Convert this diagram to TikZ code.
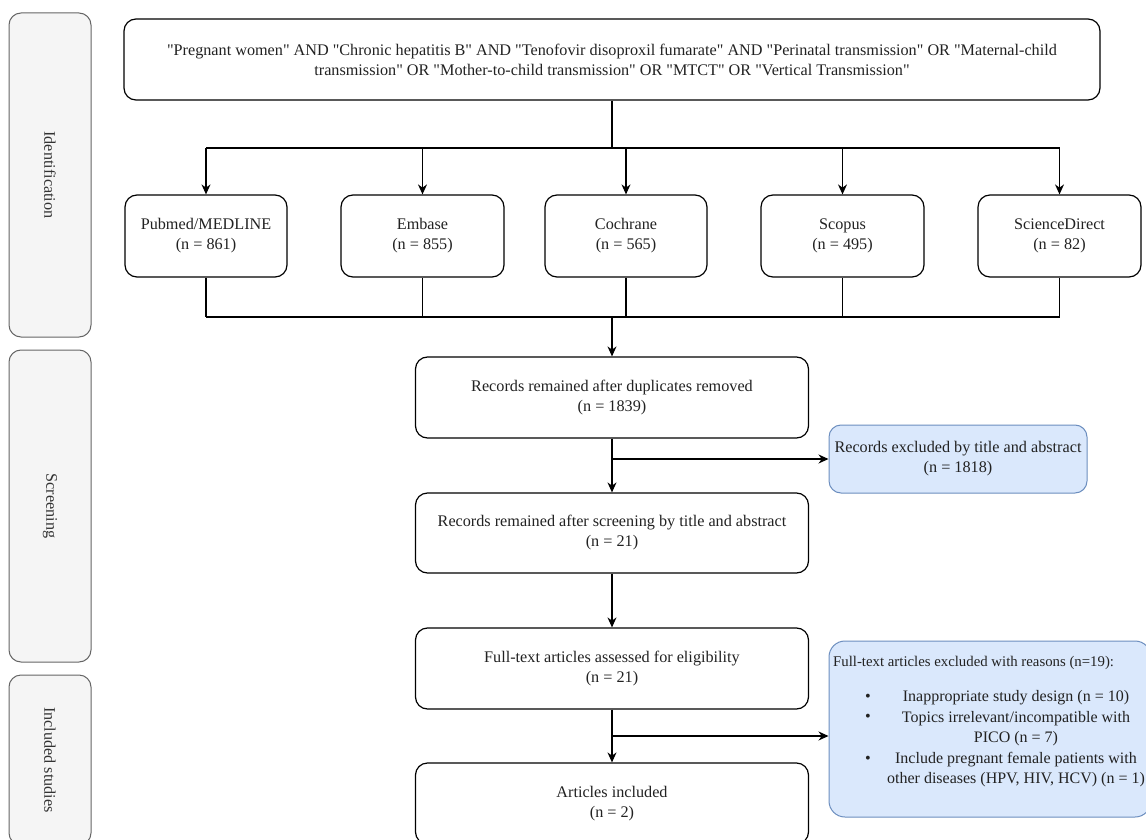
\documentclass[tikz,border=0pt]{standalone}
\usepackage{fontspec}
\setmainfont{Liberation Serif}[Ligatures=TeXOff]
\usetikzlibrary{arrows.meta,calc}
\definecolor{phasefill}{HTML}{F5F5F5}
\definecolor{phasedraw}{HTML}{666666}
\definecolor{phasetext}{HTML}{333333}
\definecolor{bluefill}{HTML}{DAE8FC}
\definecolor{bluedraw}{HTML}{6C8EBF}
\definecolor{txt}{HTML}{222222}
\begin{document}
\begin{tikzpicture}[x=1pt,y=-1pt,
  every node/.style={font=\fontsize{16.2}{20}\selectfont, text=txt},
  box/.style={draw=black, line width=1.2pt, rounded corners=12pt, fill=white, inner sep=0pt, align=center},
  phase/.style={draw=phasedraw, fill=phasefill, line width=1pt, rounded corners=12pt, inner sep=0pt, text=phasetext},
  bluebox/.style={draw=bluedraw, fill=bluefill, line width=1pt, rounded corners=12pt, inner sep=0pt, align=center},
  conn/.style={draw=black, line width=1.2pt},
  arr/.style={conn, -{Stealth[length=10pt,width=9pt]}},
]
\clip (0,0) rectangle (1146,840);
\fill[white] (0,0) rectangle (1146,840);

% phase boxes
\node[phase, rotate=-90, minimum width=324, minimum height=82] (p1) at (50,175) {Identification};
\node[phase, rotate=-90, minimum width=312, minimum height=82] (p2) at (50,506) {Screening};
\node[phase, rotate=-90, minimum width=170, minimum height=82] (p3) at (50,760) {Included studies};

% query box
\node[box, minimum width=976, minimum height=81] (q) at (612,59.5)
  {"Pregnant women" AND "Chronic hepatitis B" AND "Tenofovir disoproxil fumarate" AND "Perinatal transmission" OR "Maternal-child\\ transmission" OR "Mother-to-child transmission" OR "MTCT" OR "Vertical Transmission"};

% sources
\node[box, minimum width=162, minimum height=82] (s1) at (206,236) {Pubmed/MEDLINE\\(n = 861)};
\node[box, minimum width=163, minimum height=82] (s2) at (422.5,236) {Embase\\(n = 855)};
\node[box, minimum width=162, minimum height=82] (s3) at (626,236) {Cochrane\\(n = 565)};
\node[box, minimum width=163, minimum height=82] (s4) at (842.5,236) {Scopus\\(n = 495)};
\node[box, minimum width=163, minimum height=82] (s5) at (1059.5,236) {ScienceDirect\\(n = 82)};

% main flow
\node[box, minimum width=393, minimum height=81] (r1) at (612,397.5) {Records remained after duplicates removed\\(n = 1839)};
\node[box, minimum width=393, minimum height=80] (r2) at (612,533) {Records remained after screening by title and abstract\\(n = 21)};
\node[box, minimum width=393, minimum height=81] (r3) at (612,668.5) {Full-text articles assessed for eligibility\\(n = 21)};
\node[box, minimum width=393, minimum height=81] (r4) at (612,803.5) {Articles included\\(n = 2)};

% exclusion boxes
\node[bluebox, minimum width=258, minimum height=68] (e1) at (958,459) {Records excluded by title and abstract\\(n = 1818)};
\node[bluebox, rounded corners=16pt, minimum width=322, minimum height=176] (e2) at (990,729) {};
\node[anchor=west, inner sep=0pt, font=\fontsize{14.8}{20}\selectfont] (e2t) at (833,663) {Full-text articles excluded with reasons (n=19):};
\node (bu1) at (868,698) {\textbullet};
\node (bu2) at (868,718) {\textbullet};
\node (bu3) at (868,760) {\textbullet};
\node[align=center, font=\fontsize{16}{20.5}\selectfont] (e2l) at (1016,739)
  {Inappropriate study design (n = 10)\\Topics irrelevant/incompatible with\\PICO (n = 7)\\Include pregnant female patients with\\other diseases (HPV, HIV, HCV) (n = 1)};

% connectors
\coordinate (bt) at (612,148);
\coordinate (bb) at (612,317);
\draw[conn] (q.south) -- (bt);
\draw[conn] (s1.north |- bt) -- (s5.north |- bt);
\foreach \s in {s1,s2,s3,s4,s5} {
  \draw[arr] (\s.north |- bt) -- (\s.north);
  \draw[conn] (\s.south) -- (\s.south |- bb);
}
\draw[conn] (s1.south |- bb) -- (s5.south |- bb);
\draw[arr] (bb) -- (r1.north);

\coordinate (b1) at (612,459);
\draw[arr] (r1.south) -- (r2.north);
\draw[arr] (b1) -- (b1 -| e1.west);
\draw[arr] (r2.south) -- (r3.north);
\coordinate (b2) at (612,736);
\draw[arr] (r3.south) -- (r4.north);
\draw[arr] (b2) -- (b2 -| e2.west);
\end{tikzpicture}
\end{document}
